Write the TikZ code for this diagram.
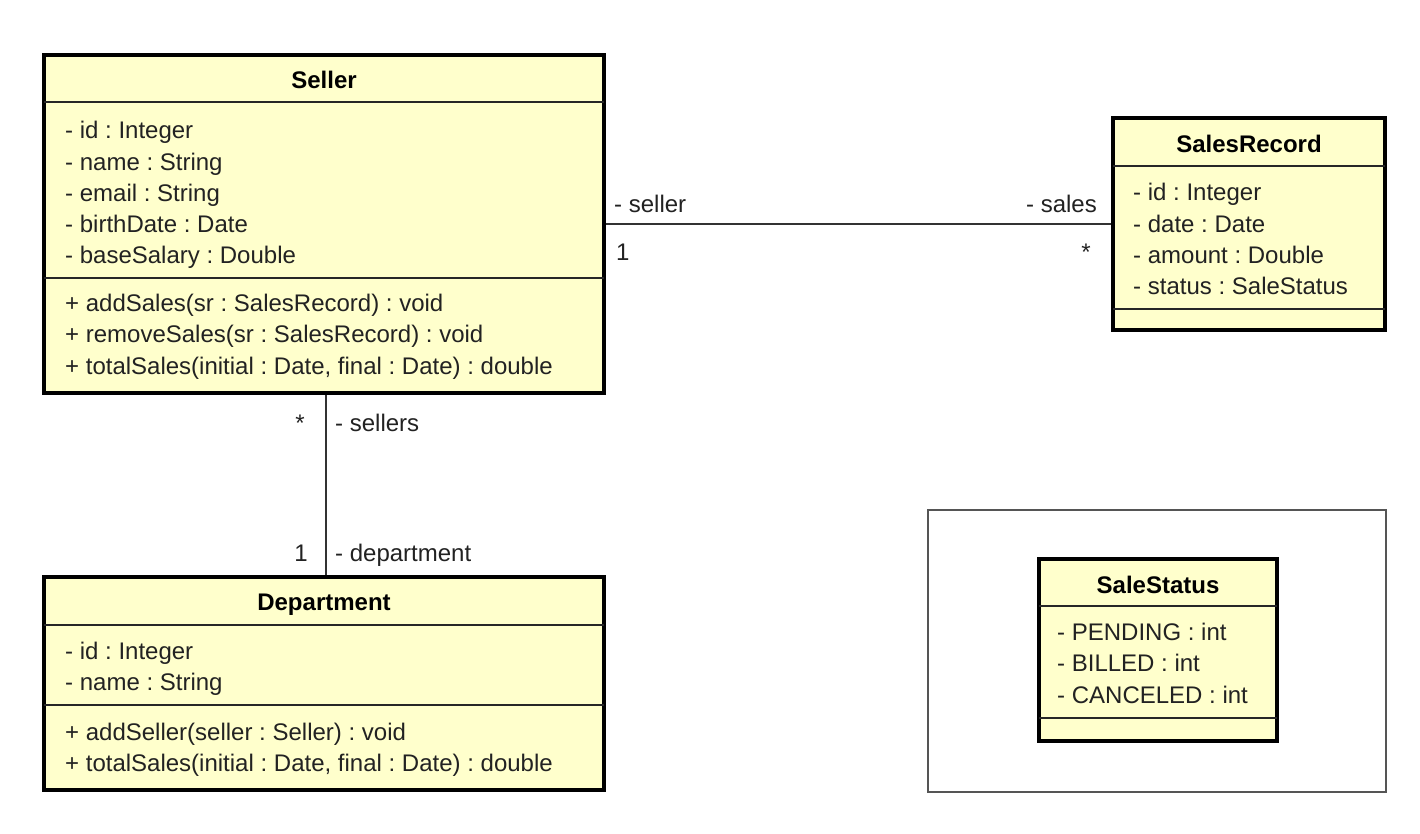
\documentclass[tikz,border=0pt]{standalone}
\usepackage{fontspec}
\setmainfont{Liberation Sans}
\usetikzlibrary{calc}
\frenchspacing
\definecolor{classfill}{RGB}{255,255,204}
\definecolor{inktext}{RGB}{34,34,34}
\definecolor{frameline}{RGB}{85,85,85}
\newcommand\umlsize{\fontsize{24}{31}\selectfont}
\tikzset{
  classbox/.style={draw=black, line width=4pt, fill=classfill, rectangle, inner sep=0pt},
  compsep/.style={draw=black!85, line width=2pt},
  member/.style={anchor=base west, inner sep=0pt, text=inktext, font=\umlsize},
  classname/.style={anchor=base, inner sep=0pt, text=black, font=\umlsize\bfseries},
  assoc/.style={draw=black!80, line width=1.8pt},
  rolelabel/.style={inner sep=0pt, text=inktext, font=\umlsize},
  packframe/.style={draw=frameline, line width=1.5pt, rectangle, inner sep=0pt}
}
\begin{document}
\begin{tikzpicture}[x=1pt, y=-1pt]
  % canvas
  \fill[white] (0,0) rectangle (1420,834);
  \useasboundingbox (0,0) rectangle (1420,834);

  % frame around the enumeration
  \node[packframe, minimum width=458pt, minimum height=282pt] (frame) at (1157,651) {};

  % class boxes
  \node[classbox, minimum width=560pt, minimum height=338pt] (seller) at (324,224) {};
  \node[classbox, minimum width=272pt, minimum height=212pt] (salesrec) at (1249,224) {};
  \node[classbox, minimum width=560pt, minimum height=213pt] (dept) at (324,683.5) {};
  \node[classbox, minimum width=238pt, minimum height=182pt] (status) at (1158,650) {};

  % Seller
  \draw[compsep] (44,101.7) -- (604,101.7);
  \draw[compsep] (44,278) -- (604,278);
  \node[classname] (sellerT) at (324,89) {Seller};
  \node[member] (s1) at (65,139) {- id : Integer};
  \node[member] (s2) at (65,170.2) {- name : String};
  \node[member] (s3) at (65,201.4) {- email : String};
  \node[member] (s4) at (65,232.6) {- birthDate : Date};
  \node[member] (s5) at (65,263.8) {- baseSalary : Double};
  \node[member] (s6) at (65,311.7) {+ addSales(sr : SalesRecord) : void};
  \node[member] (s7) at (65,342.9) {+ removeSales(sr : SalesRecord) : void};
  \node[member] (s8) at (65,374.1) {+ totalSales(initial : Date, final : Date) : double};

  % SalesRecord
  \draw[compsep] (1113,165.7) -- (1385,165.7);
  \draw[compsep] (1113,309.3) -- (1385,309.3);
  \node[classname] (salesrecT) at (1249,152.7) {SalesRecord};
  \node[member] (r1) at (1133,201) {- id : Integer};
  \node[member] (r2) at (1133,232.2) {- date : Date};
  \node[member] (r3) at (1133,263.4) {- amount : Double};
  \node[member] (r4) at (1133,294.6) {- status : SaleStatus};

  % Department
  \draw[compsep] (44,625) -- (604,625);
  \draw[compsep] (44,705) -- (604,705);
  \node[classname] (deptT) at (324,610.7) {Department};
  \node[member] (d1) at (65,659.5) {- id : Integer};
  \node[member] (d2) at (65,690.7) {- name : String};
  \node[member] (d3) at (65,740) {+ addSeller(seller : Seller) : void};
  \node[member] (d4) at (65,771.2) {+ totalSales(initial : Date, final : Date) : double};

  % SaleStatus
  \draw[compsep] (1039,606) -- (1277,606);
  \draw[compsep] (1039,718.3) -- (1277,718.3);
  \node[classname] (statusT) at (1158,593) {SaleStatus};
  \node[member] (e1) at (1057,640.7) {- PENDING : int};
  \node[member] (e2) at (1057,671.9) {- BILLED : int};
  \node[member] (e3) at (1057,703.1) {- CANCELED : int};

  % associations
  \draw[assoc] (salesrec.west) -- (salesrec.west -| seller.east);
  \draw[assoc] ($(seller.south)+(2,0)$) -- ($(dept.north)+(2,0)$);

  % association ends
  \node[rolelabel, anchor=base west] (lseller) at (614,213) {- seller};
  \node[rolelabel, anchor=base west] (mseller) at (616,261) {1};
  \node[rolelabel, anchor=base east] (lsales) at (1097,213) {- sales};
  \node[rolelabel, anchor=base east] (msales) at (1091,261) {*};
  \node[rolelabel, anchor=base west] (lsellers) at (335,431.7) {- sellers};
  \node[rolelabel, anchor=base east] (msellers) at (305,431.7) {*};
  \node[rolelabel, anchor=base west] (ldept) at (335,561.7) {- department};
  \node[rolelabel, anchor=base east] (mdept) at (308,561.7) {1};
\end{tikzpicture}
\end{document}
